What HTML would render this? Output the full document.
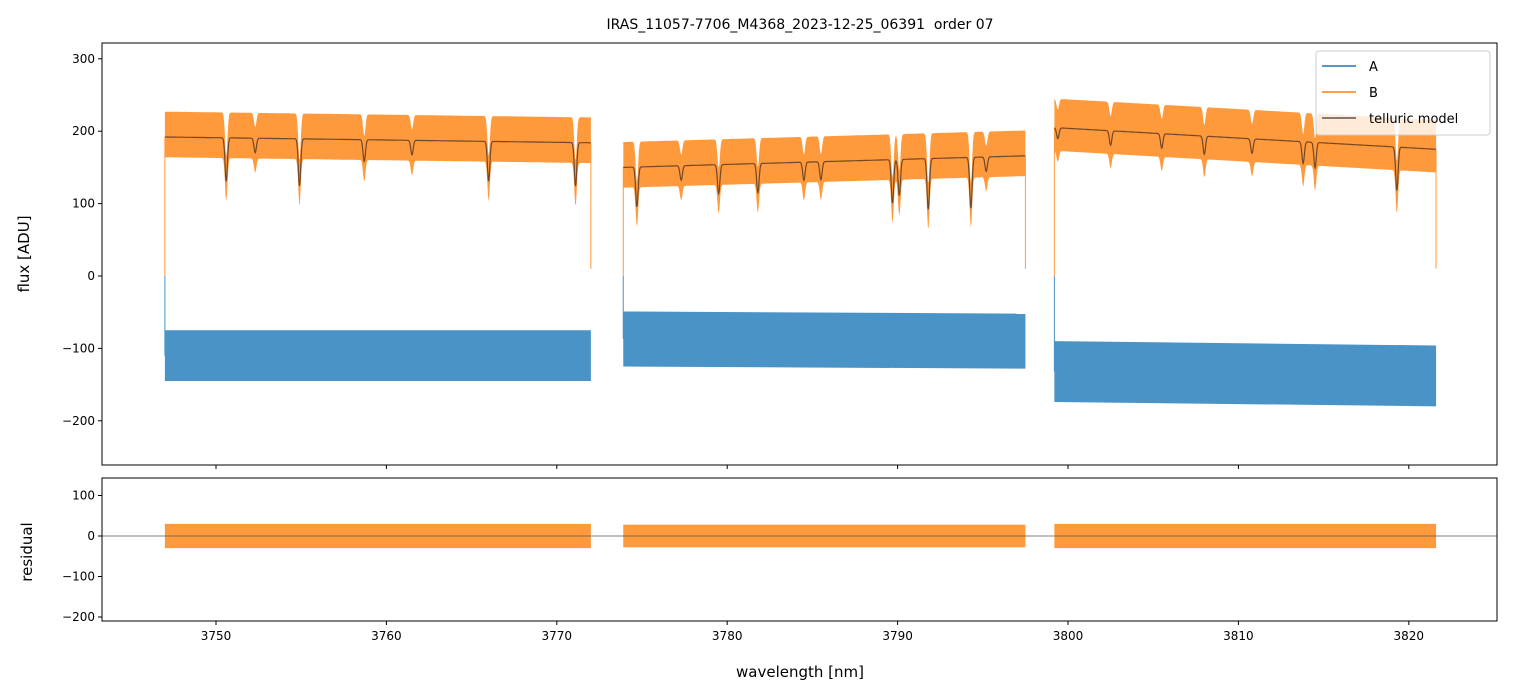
<!DOCTYPE html>
<html><head><meta charset="utf-8"><style>
body{margin:0;background:#fff;}
svg{display:block;font-family:"DejaVu Sans","Liberation Sans",sans-serif;}
</style></head><body>
<svg id="chart" width="1513" height="696" xmlns="http://www.w3.org/2000/svg"></svg>
<script>
// ---- data ----
const segStart = [3747.0, 3773.9, 3799.2];
const segEnd = [3772.0, 3797.5, 3821.6];
const modelStartVal = [192, 150, 205];
const modelEndVal = [184, 166, 175];
const bHalf = [35, 35, 40];
const aStartVal = [-110, -87, -132];
const aEndVal = [-110, -90, -138];
const aHalf = [35, 38, 42];
const residHalf = [30, 28, 30];
const lineWl = [3750.6,3752.3,3754.9,3758.7,3761.5,3766.0,3771.1,3774.7,3777.3,3779.5,3781.8,3784.5,3785.5,3789.7,3790.1,3791.8,3794.3,3795.2,3799.4,3802.5,3805.5,3808.0,3810.8,3813.8,3814.5,3819.3];
const lineDepth = [60,20,65,30,20,55,60,55,20,40,40,25,25,60,50,70,70,20,15,20,20,25,20,30,35,60];
const xTicks = [3750,3760,3770,3780,3790,3800,3810,3820];
const yTicksTop = [300,200,100,0,-100,-200];
const yTicksBot = [100,0,-100,-200];

const NS="http://www.w3.org/2000/svg";
const svg=document.getElementById('chart');
function el(t,a,p){const e=document.createElementNS(NS,t);for(const k in a)e.setAttribute(k,a[k]);(p||svg).appendChild(e);return e;}
const L=102,R=1497,T1=43,B1=465,T2=478,B2=621;
const X=w=>216+(w-3750)*17.04;
const Y1=v=>276-v*0.724;
const Y2=v=>536-v*0.405;
function model(s,w){
  const f=(w-segStart[s])/(segEnd[s]-segStart[s]);
  let v=modelStartVal[s]+(modelEndVal[s]-modelStartVal[s])*f;
  for(let i=0;i<lineWl.length;i++){const d=(w-lineWl[i])/0.1;v-=lineDepth[i]*Math.exp(-d*d);}
  return v;
}

for(let s=0;s<3;s++){
  let up=[],lo=[];
  for(let w=segStart[s];w<=segEnd[s]+1e-6;w+=0.04){
    const m=model(s,w);up.push(X(w).toFixed(1)+','+Y1(m+bHalf[s]).toFixed(1));lo.unshift(X(w).toFixed(1)+','+Y1(m-bHalf[s]*0.8).toFixed(1));
  }
  const p=el('polygon',{points:up.concat(lo).join(' '),fill:'#ff9a3c'});
  
  el('line',{x1:X(segStart[s]),x2:X(segStart[s]),y1:Y1(modelStartVal[s]),y2:Y1(0),stroke:'#ff9a3c','stroke-width':1});
  el('line',{x1:X(segEnd[s]),x2:X(segEnd[s]),y1:Y1(modelEndVal[s]),y2:Y1(10),stroke:'#ff9a3c','stroke-width':1});
  const a0=aStartVal[s],a1=aEndVal[s];
  const ya=w=>a0+(a1-a0)*(w-segStart[s])/(segEnd[s]-segStart[s]);
  const pa=el('polygon',{points:[X(segStart[s])+','+Y1(ya(segStart[s])+aHalf[s]),X(segEnd[s])+','+Y1(ya(segEnd[s])+aHalf[s]),X(segEnd[s])+','+Y1(ya(segEnd[s])-aHalf[s]),X(segStart[s])+','+Y1(ya(segStart[s])-aHalf[s])].join(' '),fill:'#4a93c6'});
  
  el('line',{x1:X(segStart[s]),x2:X(segStart[s]),y1:Y1(a0),y2:Y1(0),stroke:'#4a93c6','stroke-width':1});
  let pts=[];for(let w=segStart[s];w<=segEnd[s]+1e-6;w+=0.02)pts.push(X(w).toFixed(1)+','+Y1(model(s,w)).toFixed(1));
  const ml=el('polyline',{points:pts.join(' '),fill:'none',stroke:'#5a3a22','stroke-width':1.2,opacity:0.85});
  
  const pr=el('rect',{x:X(segStart[s]),y:Y2(residHalf[s]),width:X(segEnd[s])-X(segStart[s]),height:Y2(-residHalf[s])-Y2(residHalf[s]),fill:'#ff9a3c'});
  
}
el('line',{x1:L,x2:R,y1:Y2(0),y2:Y2(0),stroke:'#555','stroke-width':0.8});

const f1=el('rect',{x:L,y:T1,width:R-L,height:B1-T1,fill:'none',stroke:'#000','stroke-width':1});

const f2=el('rect',{x:L,y:T2,width:R-L,height:B2-T2,fill:'none',stroke:'#000','stroke-width':1});

xTicks.forEach(v=>{
  el('line',{x1:X(v),x2:X(v),y1:B1,y2:B1+4,stroke:'#000'});
  el('line',{x1:X(v),x2:X(v),y1:B2,y2:B2+4,stroke:'#000'});
  const t=el('text',{x:X(v),y:B2+19,'font-size':12,'text-anchor':'middle'});t.textContent=v;
  
});
yTicksTop.forEach(v=>{
  el('line',{x1:L-4,x2:L,y1:Y1(v),y2:Y1(v),stroke:'#000'});
  const t=el('text',{x:L-7,y:Y1(v)+4,'font-size':12,'text-anchor':'end'});t.textContent=v<0?'\u2212'+(-v):v;
  
});
yTicksBot.forEach(v=>{
  el('line',{x1:L-4,x2:L,y1:Y2(v),y2:Y2(v),stroke:'#000'});
  const t=el('text',{x:L-7,y:Y2(v)+4,'font-size':12,'text-anchor':'end'});t.textContent=v<0?'\u2212'+(-v):v;
  
});
</script>
<svg style="position:absolute;left:0;top:0" width="1513" height="696" xmlns="http://www.w3.org/2000/svg" font-family="DejaVu Sans, Liberation Sans, sans-serif">
<text x="800" y="29" font-size="14" text-anchor="middle" xml:space="preserve">IRAS_11057-7706_M4368_2023-12-25_06391  order 07</text>
<text x="800" y="677" font-size="15" text-anchor="middle">wavelength [nm]</text>
<text transform="translate(29,254) rotate(-90)" font-size="15" text-anchor="middle">flux [ADU]</text>
<text transform="translate(32,552) rotate(-90)" font-size="15" text-anchor="middle">residual</text>
<g>
<rect x="1316" y="51" width="174" height="84" rx="3" fill="#fff" fill-opacity="0.8" stroke="#ccc"/>
<line x1="1322" x2="1356" y1="66" y2="66" stroke="#1f77b4" stroke-width="1.5"/>
<text x="1369" y="71" font-size="13">A</text>
<line x1="1322" x2="1356" y1="92" y2="92" stroke="#ff7f0e" stroke-width="1.5"/>
<text x="1369" y="97" font-size="13">B</text>
<line x1="1322" x2="1356" y1="118" y2="118" stroke="#555" stroke-width="1.5"/>
<text x="1369" y="123" font-size="13">telluric model</text>
</g>
</svg>
</body></html>
